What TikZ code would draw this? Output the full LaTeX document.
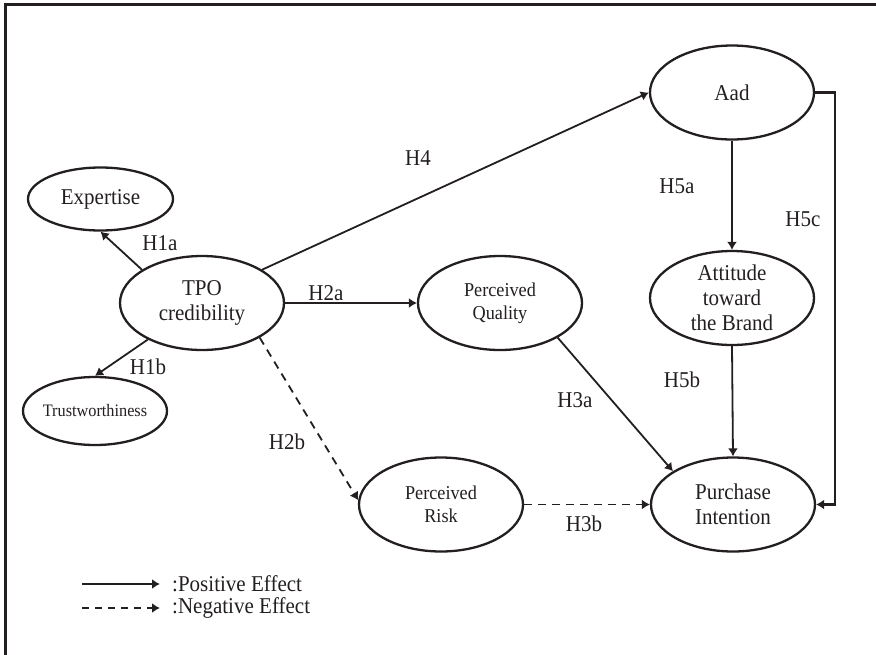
\documentclass[tikz,border=0pt]{standalone}
\usepackage{fontspec}
\setmainfont{Liberation Serif}[FakeStretch=0.93]
\usetikzlibrary{shapes.geometric,arrows.meta}
\definecolor{ink}{HTML}{231F20}
\begin{document}
\begin{tikzpicture}[x=1pt,y=-1pt,
  construct/.style={ellipse, draw=ink, line width=2.3pt, inner sep=0pt,
    minimum width=164pt, minimum height=94pt},
  bigtext/.style={align=center, inner sep=0pt, text=ink,
    font=\fontsize{22.6}{25}\selectfont},
  midtext/.style={align=center, inner sep=0pt, text=ink,
    font=\fontsize{19.6}{23}\selectfont},
  smalltext/.style={align=center, inner sep=0pt, text=ink,
    font=\fontsize{17.5}{20}\selectfont},
  hyp/.style={inner sep=0pt, text=ink, font=\fontsize{22.6}{25}\selectfont},
  link/.style={draw=ink, line width=1.8pt, -{Latex[length=8pt,width=10pt]}},
  neg/.style={link, dash pattern=on 8pt off 6pt},
]
\useasboundingbox (0,0) rectangle (876,654);

% frame
\draw[ink, line width=2.2pt] (5.5,660) -- (5.5,4.5) -- (880,4.5);

% constructs
\node[construct, label={[bigtext,name=aadtxt]center:Aad}] (aad) at (732,92.5) {};
\node[construct, minimum width=145pt, minimum height=63pt,
      label={[bigtext,name=exptxt]center:Expertise}] (exp) at (100.5,199) {};
\node[construct, label={[bigtext,name=tpotxt]center:{TPO\\credibility}}] (tpo) at (202,303) {};
\node[construct, label={[midtext,name=pqtxt]center:{Perceived\\Quality}}] (pq) at (500,303) {};
\node[construct, label={[bigtext,name=atttxt]center:{Attitude\\toward\\the Brand}}] (att) at (732,298) {};
\node[construct, minimum width=144pt, minimum height=68pt,
      label={[smalltext,name=trusttxt]center:Trustworthiness}] (trust) at (95,411) {};
\node[construct, label={[midtext,name=risktxt]center:{Perceived\\Risk}}] (risk) at (441,504.5) {};
\node[construct, label={[bigtext,name=pitxt]center:{Purchase\\Intention}}] (pi) at (733,504.5) {};

% hypothesised paths
\draw[link] (tpo.151) -- (exp.south);
\draw[link] (tpo.214) -- (trust.north);
\draw[link] (tpo.29) -- (aad.west);
\draw[link] (tpo.east) -- (pq.west);
\draw[neg] (tpo.-31) -- (risk.177);
\draw[link] (pq.-31) -- (pi.151);
\draw[neg] (risk.east) -- (pi.west);
\draw[link] (aad.south) -- (att.north);
\draw[link] (att.south) -- (pi.north);
\coordinate (h5cturn) at (835,92.5);
\draw[link, line width=2.4pt] (aad.east) -- (h5cturn) |- (pi.east);

% path labels
\node[hyp] (h1a) at (160,243) {H1a};
\node[hyp] (h1b) at (148,367) {H1b};
\node[hyp] (h4)  at (418,158) {H4};
\node[hyp] (h2a) at (326,293) {H2a};
\node[hyp] (h2b) at (287,442) {H2b};
\node[hyp] (h3a) at (575,400) {H3a};
\node[hyp] (h3b) at (584,523.5) {H3b};
\node[hyp] (h5a) at (677,186) {H5a};
\node[hyp] (h5b) at (682,380) {H5b};
\node[hyp] (h5c) at (803,219) {H5c};

% legend
\coordinate (posA) at (82,584);
\coordinate (posB) at (160,584);
\coordinate (negA) at (82,608);
\coordinate (negB) at (160,608);
\draw[link] (posA) -- (posB);
\draw[neg, dash pattern=on 7pt off 6pt] (negA) -- (negB);
\node[hyp, anchor=west] (postxt) at (172,584) {:Positive Effect};
\node[hyp, anchor=west] (negtxt) at (172,608) {:Negative Effect};
\end{tikzpicture}
\end{document}
